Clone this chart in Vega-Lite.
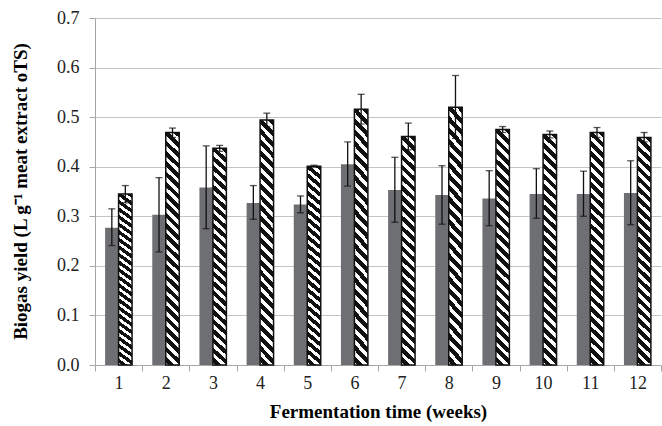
{
  "$schema": "https://vega.github.io/schema/vega-lite/v6.json",
  "width": 566,
  "height": 347,
  "autosize": {"type": "none"},
  "padding": {"left": 95, "top": 18, "right": 1, "bottom": 61},
  "background": "white",
  "config": {"view": {"stroke": null}},
  "data": {
    "values": [
      {"week": 1, "group": "A", "value": 0.277, "lo": 0.241, "hi": 0.315},
      {"week": 1, "group": "B", "value": 0.345, "lo": 0.327, "hi": 0.362},
      {"week": 2, "group": "A", "value": 0.303, "lo": 0.228, "hi": 0.378},
      {"week": 2, "group": "B", "value": 0.469, "lo": 0.459, "hi": 0.478},
      {"week": 3, "group": "A", "value": 0.358, "lo": 0.275, "hi": 0.442},
      {"week": 3, "group": "B", "value": 0.437, "lo": 0.431, "hi": 0.443},
      {"week": 4, "group": "A", "value": 0.327, "lo": 0.294, "hi": 0.362},
      {"week": 4, "group": "B", "value": 0.494, "lo": 0.481, "hi": 0.508},
      {"week": 5, "group": "A", "value": 0.324, "lo": 0.307, "hi": 0.341},
      {"week": 5, "group": "B", "value": 0.401, "lo": 0.399, "hi": 0.403},
      {"week": 6, "group": "A", "value": 0.405, "lo": 0.361, "hi": 0.45},
      {"week": 6, "group": "B", "value": 0.516, "lo": 0.486, "hi": 0.546},
      {"week": 7, "group": "A", "value": 0.353, "lo": 0.288, "hi": 0.419},
      {"week": 7, "group": "B", "value": 0.461, "lo": 0.434, "hi": 0.488},
      {"week": 8, "group": "A", "value": 0.343, "lo": 0.284, "hi": 0.402},
      {"week": 8, "group": "B", "value": 0.52, "lo": 0.457, "hi": 0.584},
      {"week": 9, "group": "A", "value": 0.336, "lo": 0.281, "hi": 0.392},
      {"week": 9, "group": "B", "value": 0.475, "lo": 0.469, "hi": 0.481},
      {"week": 10, "group": "A", "value": 0.345, "lo": 0.296, "hi": 0.396},
      {"week": 10, "group": "B", "value": 0.465, "lo": 0.458, "hi": 0.472},
      {"week": 11, "group": "A", "value": 0.345, "lo": 0.3, "hi": 0.391},
      {"week": 11, "group": "B", "value": 0.469, "lo": 0.459, "hi": 0.479},
      {"week": 12, "group": "A", "value": 0.347, "lo": 0.283, "hi": 0.412},
      {"week": 12, "group": "B", "value": 0.459, "lo": 0.45, "hi": 0.469}
    ]
  },
  "encoding": {
    "x": {
      "field": "week",
      "type": "ordinal",
      "scale": {"paddingInner": 0, "paddingOuter": 0},
      "axis": {
        "title": "Fermentation time (weeks)",
        "titleFont": "Liberation Serif",
        "titleFontSize": 19,
        "titleFontWeight": "bold",
        "titleColor": "#000",
        "titleY": 46,
        "titleBaseline": "middle",
        "labelFont": "Liberation Serif",
        "labelFontSize": 18,
        "labelColor": "#222",
        "labelAngle": 0,
        "labelPadding": 3,
        "tickBand": "extent",
        "tickSize": 6,
        "tickColor": "#a6a6a6",
        "domainColor": "#a6a6a6",
        "grid": false
      }
    },
    "xOffset": {
      "field": "group",
      "type": "nominal",
      "scale": {"paddingInner": 0, "paddingOuter": 0.75}
    }
  },
  "layer": [
    {
      "mark": {"type": "bar", "fill": "#6e6f72"},
      "transform": [{"filter": "datum.group === 'A'"}],
      "encoding": {
        "y": {
          "field": "value",
          "type": "quantitative",
          "scale": {"domain": [0, 0.7], "nice": false},
          "axis": {
            "title": "Biogas yield (L g⁻¹ meat extract oTS)",
            "titleFont": "Liberation Serif",
            "titleFontSize": 19,
            "titleFontWeight": "bold",
            "titleColor": "#000",
            "titleX": -75,
            "titleY": 173,
            "titleAngle": -90,
            "titleBaseline": "middle",
            "titleAlign": "center",
            "labelFont": "Liberation Serif",
            "labelFontSize": 18,
            "labelColor": "#222",
            "labelPadding": 10,
            "format": ".1f",
            "values": [0, 0.1, 0.2, 0.3, 0.4, 0.5, 0.6, 0.7],
            "tickSize": 6,
            "tickColor": "#a6a6a6",
            "domainColor": "#a6a6a6",
            "gridColor": "#c4c4c4",
            "gridWidth": 1.2
          }
        }
      }
    },
    {
      "mark": {
        "type": "bar",
        "stroke": "#111",
        "strokeWidth": 1.5,
        "fill": {
          "gradient": "linear",
          "x1": 1, "y1": 0, "x2": 0.94, "y2": 1.06,
          "stops": [
            {"offset": 0, "color": "#111"}, {"offset": 0.0229, "color": "#111"}, {"offset": 0.0229, "color": "#fff"}, {"offset": 0.0417, "color": "#fff"},
            {"offset": 0.0417, "color": "#111"}, {"offset": 0.0646, "color": "#111"}, {"offset": 0.0646, "color": "#fff"}, {"offset": 0.0833, "color": "#fff"},
            {"offset": 0.0833, "color": "#111"}, {"offset": 0.1063, "color": "#111"}, {"offset": 0.1063, "color": "#fff"}, {"offset": 0.125, "color": "#fff"},
            {"offset": 0.125, "color": "#111"}, {"offset": 0.1479, "color": "#111"}, {"offset": 0.1479, "color": "#fff"}, {"offset": 0.1667, "color": "#fff"},
            {"offset": 0.1667, "color": "#111"}, {"offset": 0.1896, "color": "#111"}, {"offset": 0.1896, "color": "#fff"}, {"offset": 0.2083, "color": "#fff"},
            {"offset": 0.2083, "color": "#111"}, {"offset": 0.2313, "color": "#111"}, {"offset": 0.2313, "color": "#fff"}, {"offset": 0.25, "color": "#fff"},
            {"offset": 0.25, "color": "#111"}, {"offset": 0.2729, "color": "#111"}, {"offset": 0.2729, "color": "#fff"}, {"offset": 0.2917, "color": "#fff"},
            {"offset": 0.2917, "color": "#111"}, {"offset": 0.3146, "color": "#111"}, {"offset": 0.3146, "color": "#fff"}, {"offset": 0.3333, "color": "#fff"},
            {"offset": 0.3333, "color": "#111"}, {"offset": 0.3563, "color": "#111"}, {"offset": 0.3563, "color": "#fff"}, {"offset": 0.375, "color": "#fff"},
            {"offset": 0.375, "color": "#111"}, {"offset": 0.3979, "color": "#111"}, {"offset": 0.3979, "color": "#fff"}, {"offset": 0.4167, "color": "#fff"},
            {"offset": 0.4167, "color": "#111"}, {"offset": 0.4396, "color": "#111"}, {"offset": 0.4396, "color": "#fff"}, {"offset": 0.4583, "color": "#fff"},
            {"offset": 0.4583, "color": "#111"}, {"offset": 0.4813, "color": "#111"}, {"offset": 0.4813, "color": "#fff"}, {"offset": 0.5, "color": "#fff"},
            {"offset": 0.5, "color": "#111"}, {"offset": 0.5229, "color": "#111"}, {"offset": 0.5229, "color": "#fff"}, {"offset": 0.5417, "color": "#fff"},
            {"offset": 0.5417, "color": "#111"}, {"offset": 0.5646, "color": "#111"}, {"offset": 0.5646, "color": "#fff"}, {"offset": 0.5833, "color": "#fff"},
            {"offset": 0.5833, "color": "#111"}, {"offset": 0.6063, "color": "#111"}, {"offset": 0.6063, "color": "#fff"}, {"offset": 0.625, "color": "#fff"},
            {"offset": 0.625, "color": "#111"}, {"offset": 0.6479, "color": "#111"}, {"offset": 0.6479, "color": "#fff"}, {"offset": 0.6667, "color": "#fff"},
            {"offset": 0.6667, "color": "#111"}, {"offset": 0.6896, "color": "#111"}, {"offset": 0.6896, "color": "#fff"}, {"offset": 0.7083, "color": "#fff"},
            {"offset": 0.7083, "color": "#111"}, {"offset": 0.7313, "color": "#111"}, {"offset": 0.7313, "color": "#fff"}, {"offset": 0.75, "color": "#fff"},
            {"offset": 0.75, "color": "#111"}, {"offset": 0.7729, "color": "#111"}, {"offset": 0.7729, "color": "#fff"}, {"offset": 0.7917, "color": "#fff"},
            {"offset": 0.7917, "color": "#111"}, {"offset": 0.8146, "color": "#111"}, {"offset": 0.8146, "color": "#fff"}, {"offset": 0.8333, "color": "#fff"},
            {"offset": 0.8333, "color": "#111"}, {"offset": 0.8563, "color": "#111"}, {"offset": 0.8563, "color": "#fff"}, {"offset": 0.875, "color": "#fff"},
            {"offset": 0.875, "color": "#111"}, {"offset": 0.8979, "color": "#111"}, {"offset": 0.8979, "color": "#fff"}, {"offset": 0.9167, "color": "#fff"},
            {"offset": 0.9167, "color": "#111"}, {"offset": 0.9396, "color": "#111"}, {"offset": 0.9396, "color": "#fff"}, {"offset": 0.9583, "color": "#fff"},
            {"offset": 0.9583, "color": "#111"}, {"offset": 0.9813, "color": "#111"}, {"offset": 0.9813, "color": "#fff"}, {"offset": 1, "color": "#fff"}
          ]
        }
      },
      "transform": [{"filter": "datum.group === 'B'"}],
      "encoding": {"y": {"field": "value", "type": "quantitative"}}
    },
    {
      "mark": {"type": "rule", "color": "#111", "strokeWidth": 1.3},
      "encoding": {
        "y": {"field": "lo", "type": "quantitative"},
        "y2": {"field": "hi"}
      }
    },
    {
      "mark": {"type": "tick", "color": "#111", "thickness": 1.3, "size": 7, "orient": "horizontal"},
      "encoding": {"y": {"field": "lo", "type": "quantitative"}}
    },
    {
      "mark": {"type": "tick", "color": "#111", "thickness": 1.3, "size": 7, "orient": "horizontal"},
      "encoding": {"y": {"field": "hi", "type": "quantitative"}}
    }
  ]
}
